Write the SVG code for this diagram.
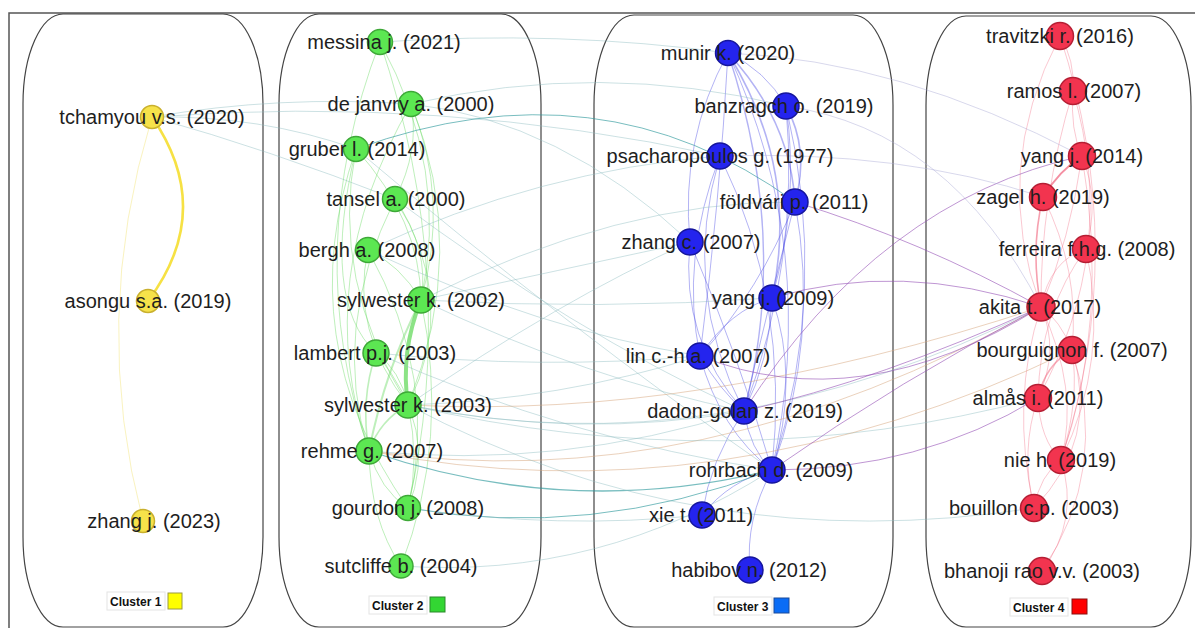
<svg xmlns="http://www.w3.org/2000/svg" width="1195" height="628" viewBox="0 0 1195 628">
<style>
.panel{fill:none;stroke:#444;stroke-width:1.2}
.frame{fill:none;stroke:#555;stroke-width:1.5}
text.lbl{font-family:"Liberation Sans",Arial,sans-serif;font-size:20px;fill:#1e1e1e;text-anchor:middle}
text.cl{font-family:"Liberation Sans",Arial,sans-serif;font-size:12px;font-weight:bold;fill:#111}
.clbox{fill:#fff;stroke:#e4e4e4;stroke-width:1}
.y circle{fill:#f6e24a;stroke:#c9b02e;stroke-width:1.5}
.g circle{fill:#5ce752;stroke:#3ea838;stroke-width:1.5}
.b circle{fill:#2424ee;stroke:#16169c;stroke-width:1.5}
.r circle{fill:#f2344f;stroke:#b51f34;stroke-width:1.5}
#edges path{fill:none;stroke-width:1}
.eg{stroke:#6fdc68;opacity:.45}
.eb{stroke:#4040e4;opacity:.4}
.er{stroke:#f0607a;opacity:.35}
.ex{stroke:#8fbcc0;opacity:.45}
.et{stroke:#2f9a9c;opacity:.65}
.ep{stroke:#9550b5;opacity:.6}
.eo{stroke:#d6a47a;opacity:.5}
.eq{stroke:#a9a9d4;opacity:.45}
</style>
<rect x="0" y="0" width="1195" height="628" fill="#fff"/>
<path class="frame" d="M9 628 V13 H1195"/>
<g id="panels">
<path class="panel" d="M63 14 H223 A40 90 0 0 1 263 104 V537 A40 90 0 0 1 223 627 H63 A40 90 0 0 1 23 537 V104 A40 90 0 0 1 63 14 Z"/>
<path class="panel" d="M319 14 H501 A40 90 0 0 1 541 104 V537 A40 90 0 0 1 501 627 H319 A40 90 0 0 1 279 537 V104 A40 90 0 0 1 319 14 Z"/>
<path class="panel" d="M634 15 H853 A40 90 0 0 1 893 105 V537 A40 90 0 0 1 853 627 H634 A40 90 0 0 1 594 537 V105 A40 90 0 0 1 634 15 Z"/>
<path class="panel" d="M966 16 H1151 A40 90 0 0 1 1191 106 V537 A40 90 0 0 1 1151 627 H966 A40 90 0 0 1 926 537 V106 A40 90 0 0 1 966 16 Z"/>
</g>
<g id="edges">
<path d="M152,117 Q216,210 148,301" style="stroke:#f5df3a;stroke-width:2.6;opacity:.95"/>
<path d="M152,117 Q90,320 143,521" style="stroke:#f3e680;opacity:.5"/>
<path class="ex" d="M152,117 Q260,115 356,149"/>
<path class="ex" d="M152,117 Q280,95 411,104"/>
<path class="ex" d="M152,117 Q440,95 720,156"/>
<path class="ex" d="M152,117 Q270,150 395,199"/>
<path class="eg" d="M421,300 Q400,352 408,405" style="stroke-width:4;opacity:.8"/>
<path class="eg" d="M421,300 Q385,370 369,451" style="stroke-width:2"/>
<path class="eg" d="M376,353 Q360,400 369,451" style="stroke-width:1.6"/>
<path class="eg" d="M380,42 Q300,250 369,451"/>
<path class="eg" d="M380,42 Q460,280 408,508"/>
<path class="eg" d="M411,104 Q470,250 408,405"/>
<path class="eg" d="M411,104 Q310,280 369,451"/>
<path class="eg" d="M356,149 Q330,280 408,405"/>
<path class="eg" d="M356,149 Q420,220 421,300"/>
<path class="eg" d="M395,199 Q430,250 421,300"/>
<path class="eg" d="M395,199 Q330,330 369,451"/>
<path class="eg" d="M368,250 Q400,265 421,300"/>
<path class="eg" d="M368,250 Q350,330 408,405"/>
<path class="eg" d="M376,353 Q400,370 408,405"/>
<path class="eg" d="M408,405 Q380,420 369,451" style="stroke-width:1.6"/>
<path class="eg" d="M408,405 Q420,460 408,508"/>
<path class="eg" d="M369,451 Q380,490 408,508"/>
<path class="eg" d="M369,451 Q370,520 401,566"/>
<path class="eg" d="M421,300 Q450,440 401,566"/>
<path class="eg" d="M380,42 Q450,170 421,300"/>
<path class="eg" d="M411,104 Q450,200 421,300"/>
<path class="eg" d="M395,199 Q460,300 408,405"/>
<path class="eg" d="M356,149 Q290,340 408,508"/>
<path class="eg" d="M368,250 Q440,380 408,508"/>
<path class="eg" d="M376,353 Q440,430 408,508"/>
<path class="eg" d="M411,104 Q420,150 395,199"/>
<path class="eg" d="M356,149 Q320,300 376,353"/>
<path class="eb" d="M728,53 Q790,120 795,202" style="stroke-width:1.6"/>
<path class="eb" d="M728,53 Q800,170 772,298" style="stroke-width:1.6"/>
<path class="eb" d="M728,53 Q790,240 744,411" style="stroke-width:1.4"/>
<path class="eb" d="M728,53 Q820,250 772,470"/>
<path class="eb" d="M728,53 Q720,200 700,356"/>
<path class="eb" d="M728,53 Q765,70 786,106"/>
<path class="eb" d="M786,106 Q810,150 795,202" style="stroke-width:1.6"/>
<path class="eb" d="M786,106 Q830,290 772,470"/>
<path class="eb" d="M786,106 Q800,260 744,411"/>
<path class="eb" d="M786,106 Q800,200 772,298"/>
<path class="eb" d="M720,156 Q680,290 744,411"/>
<path class="eb" d="M720,156 Q790,300 772,470"/>
<path class="eb" d="M795,202 Q760,290 700,356"/>
<path class="eb" d="M795,202 Q770,300 744,411"/>
<path class="eb" d="M795,202 Q820,340 772,470"/>
<path class="eb" d="M690,242 Q680,340 744,411"/>
<path class="eb" d="M690,242 Q740,360 772,470"/>
<path class="eb" d="M772,298 Q770,360 744,411"/>
<path class="eb" d="M772,298 Q800,380 772,470"/>
<path class="eb" d="M700,356 Q720,390 744,411"/>
<path class="eb" d="M700,356 Q720,430 772,470"/>
<path class="eb" d="M744,411 Q750,450 772,470"/>
<path class="eb" d="M772,470 Q730,480 702,515"/>
<path class="eb" d="M772,470 Q745,520 750,570"/>
<path class="eb" d="M772,298 Q730,310 700,356"/>
<path class="eb" d="M744,411 Q710,460 702,515"/>
<path class="eb" d="M728,53 Q680,140 690,242"/>
<path class="eb" d="M720,156 Q680,260 700,356"/>
<path class="er" d="M1060,36 Q990,170 1041,307"/>
<path class="er" d="M1060,36 Q1130,250 1061,460"/>
<path class="er" d="M1073,91 Q1040,200 1041,307"/>
<path class="er" d="M1073,91 Q1120,250 1038,398"/>
<path class="er" d="M1082,156 Q1060,170 1043,197" style="stroke-width:2;opacity:.7"/>
<path class="er" d="M1082,156 Q1070,240 1041,307"/>
<path class="er" d="M1082,156 Q1100,200 1086,249"/>
<path class="er" d="M1082,156 Q1110,320 1061,460"/>
<path class="er" d="M1043,197 Q1030,250 1041,307" style="stroke-width:1.6;opacity:.6"/>
<path class="er" d="M1043,197 Q1080,270 1072,350"/>
<path class="er" d="M1086,249 Q1050,260 1041,307"/>
<path class="er" d="M1086,249 Q1040,310 1038,398"/>
<path class="er" d="M1086,249 Q1110,360 1061,460"/>
<path class="er" d="M1041,307 Q1060,320 1072,350"/>
<path class="er" d="M1041,307 Q1060,350 1038,398"/>
<path class="er" d="M1041,307 Q1080,390 1061,460"/>
<path class="er" d="M1072,350 Q1045,365 1038,398" style="stroke-width:1.5;opacity:.5"/>
<path class="er" d="M1072,350 Q1080,400 1061,460"/>
<path class="er" d="M1072,350 Q1100,440 1034,508"/>
<path class="er" d="M1038,398 Q1040,440 1061,460"/>
<path class="er" d="M1038,398 Q1020,450 1034,508"/>
<path class="er" d="M1061,460 Q1040,475 1034,508"/>
<path class="er" d="M1061,460 Q1080,520 1042,571"/>
<path class="er" d="M1041,307 Q1010,400 1034,508"/>
<path class="er" d="M1072,350 Q1110,470 1042,571"/>
<path class="er" d="M1060,36 Q1075,60 1073,91"/>
<path class="er" d="M1073,91 Q1070,130 1082,156"/>
<path class="et" d="M356,149 Q600,60 795,202"/>
<path class="ex" d="M411,104 Q560,120 690,242"/>
<path class="ex" d="M408,405 Q720,470 1041,307"/>
<path class="et" d="M369,451 Q570,520 772,470" style="stroke-width:1.3"/>
<path class="ex" d="M369,451 Q560,470 744,411"/>
<path class="ex" d="M408,405 Q580,440 744,411"/>
<path class="ex" d="M408,405 Q560,400 700,356"/>
<path class="ex" d="M376,353 Q540,370 700,356"/>
<path class="ex" d="M421,300 Q560,270 690,242"/>
<path class="ex" d="M421,300 Q600,310 772,298"/>
<path class="et" d="M408,508 Q590,540 772,470"/>
<path class="ex" d="M408,508 Q560,530 702,515"/>
<path class="ex" d="M401,566 Q600,580 772,470"/>
<path class="eo" d="M369,451 Q700,500 1041,307"/>
<path class="ex" d="M408,405 Q730,480 1038,398"/>
<path class="ex" d="M376,353 Q570,440 772,470"/>
<path class="ex" d="M368,250 Q540,330 700,356"/>
<path class="ex" d="M395,199 Q570,330 744,411"/>
<path class="ex" d="M356,149 Q570,330 772,470"/>
<path class="ex" d="M421,300 Q590,380 744,411"/>
<path class="ex" d="M368,250 Q540,170 720,156"/>
<path class="ex" d="M411,104 Q600,60 786,106"/>
<path class="ex" d="M380,42 Q560,30 728,53"/>
<path class="ex" d="M408,405 Q560,300 690,242"/>
<path class="ex" d="M421,300 Q620,200 795,202"/>
<path class="ex" d="M408,405 Q700,560 1034,508"/>
<path class="eo" d="M369,451 Q720,520 1072,350"/>
<path class="eo" d="M408,405 Q700,420 1041,307"/>
<path class="ep" d="M1082,156 Q880,200 744,411"/>
<path class="ep" d="M1041,307 Q860,420 700,356"/>
<path class="ep" d="M1041,307 Q900,260 772,298"/>
<path class="ep" d="M1041,307 Q900,380 772,470"/>
<path class="ep" d="M1038,398 Q920,470 772,470"/>
<path class="ep" d="M1041,307 Q920,240 795,202"/>
<path class="ep" d="M1041,307 Q880,380 744,411"/>
<path class="eq" d="M728,53 Q900,60 1082,156"/>
<path class="eq" d="M786,106 Q950,130 1041,307"/>
<path class="eq" d="M720,156 Q900,150 1043,197"/>
</g>
<g id="n-tchamyou" class="y"><circle cx="152" cy="117" r="11.5"/><text class="lbl" x="152" y="124">tchamyou v.s. (2020)</text></g>
<g id="n-asongu" class="y"><circle cx="148" cy="301" r="11.5"/><text class="lbl" x="148" y="308">asongu s.a. (2019)</text></g>
<g id="n-zhangj" class="y"><circle cx="143" cy="521" r="11.5"/><text class="lbl" x="154" y="528">zhang j. (2023)</text></g>
<g id="n-messina" class="g"><circle cx="380" cy="42" r="12.5"/><text class="lbl" x="384" y="49">messina j. (2021)</text></g>
<g id="n-dejanvry" class="g"><circle cx="411" cy="104" r="12.5"/><text class="lbl" x="411" y="111">de janvry a. (2000)</text></g>
<g id="n-gruber" class="g"><circle cx="356" cy="149" r="12.5"/><text class="lbl" x="357" y="156">gruber l. (2014)</text></g>
<g id="n-tansel" class="g"><circle cx="395" cy="199" r="12.5"/><text class="lbl" x="396" y="206">tansel a. (2000)</text></g>
<g id="n-bergh" class="g"><circle cx="368" cy="250" r="12.5"/><text class="lbl" x="367" y="257">bergh a. (2008)</text></g>
<g id="n-sylwester2002" class="g"><circle cx="421" cy="300" r="13"/><text class="lbl" x="421" y="307">sylwester k. (2002)</text></g>
<g id="n-lambert" class="g"><circle cx="376" cy="353" r="13"/><text class="lbl" x="375" y="360">lambert p.j. (2003)</text></g>
<g id="n-sylwester2003" class="g"><circle cx="408" cy="405" r="13"/><text class="lbl" x="408" y="412">sylwester k. (2003)</text></g>
<g id="n-rehme" class="g"><circle cx="369" cy="451" r="13"/><text class="lbl" x="372" y="458">rehme g. (2007)</text></g>
<g id="n-gourdon" class="g"><circle cx="408" cy="508" r="12.5"/><text class="lbl" x="408" y="515">gourdon j. (2008)</text></g>
<g id="n-sutcliffe" class="g"><circle cx="401" cy="566" r="12"/><text class="lbl" x="401" y="573">sutcliffe b. (2004)</text></g>
<g id="n-munir" class="b"><circle cx="728" cy="53" r="12.5"/><text class="lbl" x="728" y="60">munir k. (2020)</text></g>
<g id="n-banzragch" class="b"><circle cx="786" cy="106" r="13"/><text class="lbl" x="784" y="113">banzragch o. (2019)</text></g>
<g id="n-psacharopoulos" class="b"><circle cx="720" cy="156" r="13"/><text class="lbl" x="720" y="163">psacharopoulos g. (1977)</text></g>
<g id="n-foldvari" class="b"><circle cx="795" cy="202" r="13"/><text class="lbl" x="794" y="209">földvári p. (2011)</text></g>
<g id="n-zhangc" class="b"><circle cx="690" cy="242" r="13"/><text class="lbl" x="691" y="249">zhang c. (2007)</text></g>
<g id="n-yangj2009" class="b"><circle cx="772" cy="298" r="13"/><text class="lbl" x="773" y="305">yang j. (2009)</text></g>
<g id="n-lin" class="b"><circle cx="700" cy="356" r="13"/><text class="lbl" x="698" y="363">lin c.-h.a. (2007)</text></g>
<g id="n-dadongolan" class="b"><circle cx="744" cy="411" r="13"/><text class="lbl" x="745" y="418">dadon-golan z. (2019)</text></g>
<g id="n-rohrbach" class="b"><circle cx="772" cy="470" r="13"/><text class="lbl" x="771" y="477">rohrbach d. (2009)</text></g>
<g id="n-xie" class="b"><circle cx="702" cy="515" r="13"/><text class="lbl" x="701" y="522">xie t. (2011)</text></g>
<g id="n-habibov" class="b"><circle cx="750" cy="570" r="13"/><text class="lbl" x="749" y="577">habibov n. (2012)</text></g>
<g id="n-travitzki" class="r"><circle cx="1060" cy="36" r="13.5"/><text class="lbl" x="1060" y="43">travitzki r. (2016)</text></g>
<g id="n-ramos" class="r"><circle cx="1073" cy="91" r="13.5"/><text class="lbl" x="1074" y="98">ramos l. (2007)</text></g>
<g id="n-yangj2014" class="r"><circle cx="1082" cy="156" r="13.5"/><text class="lbl" x="1082" y="163">yang j. (2014)</text></g>
<g id="n-zagel" class="r"><circle cx="1043" cy="197" r="13.5"/><text class="lbl" x="1043" y="204">zagel h. (2019)</text></g>
<g id="n-ferreira" class="r"><circle cx="1086" cy="249" r="13.5"/><text class="lbl" x="1087" y="256">ferreira f.h.g. (2008)</text></g>
<g id="n-akita" class="r"><circle cx="1041" cy="307" r="14"/><text class="lbl" x="1040" y="314">akita t. (2017)</text></g>
<g id="n-bourguignon" class="r"><circle cx="1072" cy="350" r="13.5"/><text class="lbl" x="1072" y="357">bourguignon f. (2007)</text></g>
<g id="n-almas" class="r"><circle cx="1038" cy="398" r="13.5"/><text class="lbl" x="1038" y="405">almås i. (2011)</text></g>
<g id="n-nie" class="r"><circle cx="1061" cy="460" r="13.5"/><text class="lbl" x="1060" y="467">nie h. (2019)</text></g>
<g id="n-bouillon" class="r"><circle cx="1034" cy="508" r="13.5"/><text class="lbl" x="1034" y="515">bouillon c.p. (2003)</text></g>
<g id="n-bhanoji" class="r"><circle cx="1042" cy="571" r="13.5"/><text class="lbl" x="1042" y="578">bhanoji rao v.v. (2003)</text></g>
<g id="legend-1"><rect class="clbox" x="107" y="592" width="58" height="18"/><text class="cl" x="110" y="606">Cluster 1</text><rect x="168" y="593" width="14" height="16" fill="#ffff00" stroke="#9a9a40"/></g>
<g id="legend-2"><rect class="clbox" x="369" y="596" width="58" height="18"/><text class="cl" x="372" y="610">Cluster 2</text><rect x="430" y="597" width="15" height="15" fill="#33d633" stroke="#2a8a2a"/></g>
<g id="legend-3"><rect class="clbox" x="714" y="597" width="58" height="18"/><text class="cl" x="717" y="611">Cluster 3</text><rect x="774" y="598" width="15" height="15" fill="#0a6cf5" stroke="#1a4a9a"/></g>
<g id="legend-4"><rect class="clbox" x="1010" y="598" width="58" height="18"/><text class="cl" x="1013" y="612">Cluster 4</text><rect x="1072" y="599" width="15" height="15" fill="#ff0000" stroke="#8a1010"/></g>
</svg>
